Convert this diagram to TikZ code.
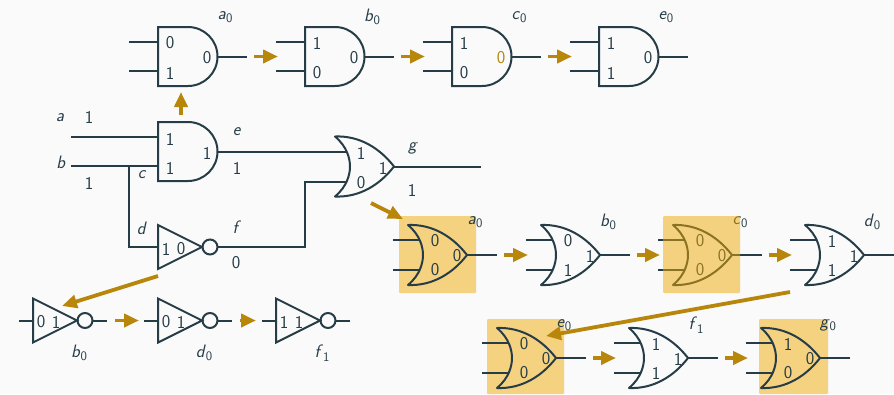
\documentclass[tikz,border=0pt]{standalone}
\usepackage{tikz}
\usetikzlibrary{arrows.meta}

\definecolor{gatecol}{HTML}{263D47}
\definecolor{flowcol}{HTML}{B8860B}
\definecolor{boxcol}{HTML}{F5D27F}
\definecolor{veilcol}{HTML}{F0AA04}
\definecolor{pagecol}{HTML}{FAFAFA}

\tikzset{
    every node/.style={font=\sffamily\fontsize{18}{21}\selectfont, text=gatecol, inner sep=0pt},
    wire/.style={draw=gatecol, line width=2pt},
    hilite/.style={fill=boxcol, rounded corners=1pt},
    veil/.style={fill=veilcol, fill opacity=0.5, rounded corners=1pt},
    flow/.style={draw=flowcol, line width=3.8pt, -{Triangle[length=15pt,width=13pt]}},
    pics/andg/.style={code={
        \coordinate (-in) at (0, 0);
        \coordinate (-in1) at (-29, -14.5);
        \coordinate (-in2) at (-29, 14.5);
        \coordinate (-out) at (89, 0);
        \draw [wire] (0, -29.5) -- (30, -29.5) arc [start angle=-90, end angle=90, radius=29.5]
            -- (0, 29.5) -- cycle;
        \draw [wire] (-in1) -- (0, -14.5);
        \draw [wire] (-in2) -- (0, 14.5);
        \draw [wire] (59.5, 0) -- (-out);
    }},
    pics/org/.style={code={
        \coordinate (-in) at (0, 0);
        \coordinate (-in1) at (-15, -15);
        \coordinate (-in2) at (-15, 15);
        \coordinate (-out) at (89, 0);
        \draw [wire, line join=round] (0, -30) .. controls (25, -31) and (45, -18) .. (59, 0)
            .. controls (45, 18) and (25, 31) .. (0, 30)
            .. controls (12, 20) and (15, 8) .. (15, 0)
            .. controls (15, -8) and (12, -20) .. cycle;
        \draw [wire] (-in1) -- (10.5, -15);
        \draw [wire] (-in2) -- (10.5, 15);
        \draw [wire] (59, 0) -- (-out);
    }},
    pics/notg/.style={code={
        \coordinate (-in) at (0, 0);
        \coordinate (-in1) at (-14, 0);
        \coordinate (-out) at (74, 0);
        \draw [wire] (0, -22) -- (44, 0) -- (0, 22) -- cycle;
        \draw [wire] (52, 0) circle [radius=7.5];
        \draw [wire] (-in1) -- (0, 0);
        \draw [wire] (59.5, 0) -- (-out);
    }},
}
\newcommand{\vname}[2]{\textit{#1}\raisebox{-3.5pt}{\fontsize{13}{15}\selectfont #2}}

\begin{document}
\begin{tikzpicture}[x=1pt, y=-1pt]
    \useasboundingbox [fill=pagecol] (0, 0) rectangle (894, 394);
    % boxes under the gates
    \path [hilite] (399, 216) rectangle (476, 293);
    \path [hilite] (487, 319) rectangle (564, 394);
    \path [hilite] (759, 319) rectangle (828, 394);
    % and gates
    \foreach \nm/\x/\p/\q/\r/\lab in {anda/158/0/1/0/{\vname{a}{0}}, andb/305/1/0/0/{\vname{b}{0}},
            andc/452/1/0/{\textcolor{flowcol}{0}}/{\vname{c}{0}}, ande/599/1/1/0/{\vname{e}{0}}} {
        \pic (\nm) at (\x, 56.5) {andg};
        \node (\nm-p) at (\x+12, 43) {\p};
        \node (\nm-q) at (\x+12, 73) {\q};
        \node (\nm-r) at (\x+49, 58) {\r};
        \node (\nm-l) at (\x+67, 17) {\lab};
    }
    % or gates
    \foreach \nm/\x/\y/\p/\q/\r/\lab in {ora/408/255/0/0/0/{\vname{a}{0}}, orb/541/255/0/1/1/{\vname{b}{0}},
            orc/673/255/0/0/0/{\vname{c}{0}}, ord/805/255/1/1/1/{\vname{d}{0}},
            ore/497/358/0/0/0/{\vname{e}{0}}, orf/629/358/1/1/1/{\vname{f}{1}}, org/761/358/1/0/0/{\vname{g}{0}}} {
        \pic (\nm) at (\x, \y) {org};
        \node (\nm-p) at (\x+27, \y-14) {\p};
        \node (\nm-q) at (\x+27, \y+15) {\q};
        \node (\nm-r) at (\x+49, \y+1) {\r};
        \node (\nm-l) at (\x+67, \y-33) {\lab};
    }
    % not gates
    \foreach \nm/\x/\p/\r/\lab in {notb/33/0/1/{\vname{b}{0}}, notd/158/0/1/{\vname{d}{0}}, notf/276/1/1/{\vname{f}{1}}} {
        \pic (\nm) at (\x, 320.5) {notg};
        \node (\nm-p) at (\x+8, 322) {\p};
        \node (\nm-r) at (\x+23, 322) {\r};
        \node (\nm-l) at (\x+46, 353) {\lab};
    }
    % main circuit
    \pic (gand) at (158, 151.5) {andg};
    \pic (gor) at (335, 166.5) {org};
    \pic (gnot) at (158, 247) {notg};
    \coordinate (ina) at (71, 137);
    \coordinate (inb) at (71, 166);
    \coordinate (split) at (129, 166);
    \coordinate (bend) at (305, 181.5);
    \coordinate (endg) at (481, 166.5);
    \draw [wire] (ina) -- (gand-in1);
    \draw [wire] (inb) -- (gand-in2);
    \draw [wire] (split) |- (gnot-in1);
    \draw [wire] (gand-out) -- (gor-in1);
    \draw [wire] (gnot-out) -| (bend) -- (gor-in2);
    \draw [wire] (gor-out) -- (endg);
    \node (gand-p) at (170, 139) {1};
    \node (gand-q) at (170, 168) {1};
    \node (gand-r) at (207, 153) {1};
    \node (gor-p) at (361, 153) {1};
    \node (gor-q) at (361, 183) {0};
    \node (gor-r) at (383, 168) {1};
    \node (gnot-p) at (166, 249) {1};
    \node (gnot-r) at (181, 249) {0};
    \node (t-a) at (60, 118) {\textit{a}};
    \node (t-b) at (61, 162) {\textit{b}};
    \node (t-c) at (142, 175) {\textit{c}};
    \node (t-d) at (142, 228) {\textit{d}};
    \node (t-e) at (237, 132) {\textit{e}};
    \node (t-f) at (237, 227) {\textit{f}};
    \node (t-g) at (413, 148) {\textit{g}};
    \node (v-a) at (89, 117) {1};
    \node (v-b) at (89, 183) {1};
    \node (v-e) at (237, 168) {1};
    \node (v-f) at (236, 263) {0};
    \node (v-g) at (412, 190) {1};
    % box over the third gate
    \path [veil] (663, 216) rectangle (740, 293);
    % flow of the evaluation
    \coordinate (up1) at (181, 115);
    \coordinate (up2) at (181, 92);
    \coordinate (fall1) at (371, 203);
    \coordinate (fall2) at (403, 219);
    \coordinate (fall3) at (158, 276);
    \coordinate (fall4) at (62, 306);
    \coordinate (fall5) at (790, 292);
    \coordinate (fall6) at (546, 336);
    \draw [flow] (up1) -- (up2);
    \draw [flow] (fall1) -- (fall2);
    \draw [flow] (fall3) -- (fall4);
    \draw [flow] (fall5) -- (fall6);
    \draw [flow, shorten <=7pt, shorten >=27pt] (anda-out) -- (andb-in);
    \draw [flow, shorten <=7pt, shorten >=27pt] (andb-out) -- (andc-in);
    \draw [flow, shorten <=7pt, shorten >=27pt] (andc-out) -- (ande-in);
    \draw [flow, shorten <=7pt, shorten >=13pt] (ora-out) -- (orb-in);
    \draw [flow, shorten <=7pt, shorten >=13pt] (orb-out) -- (orc-in);
    \draw [flow, shorten <=7pt, shorten >=13pt] (orc-out) -- (ord-in);
    \draw [flow, shorten <=7pt, shorten >=13pt] (ore-out) -- (orf-in);
    \draw [flow, shorten <=7pt, shorten >=13pt] (orf-out) -- (org-in);
    \draw [flow, shorten <=8pt, shorten >=19pt] (notb-out) -- (notd-in);
    \draw [flow, shorten <=7.5pt, shorten >=20pt] (notd-out) -- (notf-in);
\end{tikzpicture}
\end{document}
